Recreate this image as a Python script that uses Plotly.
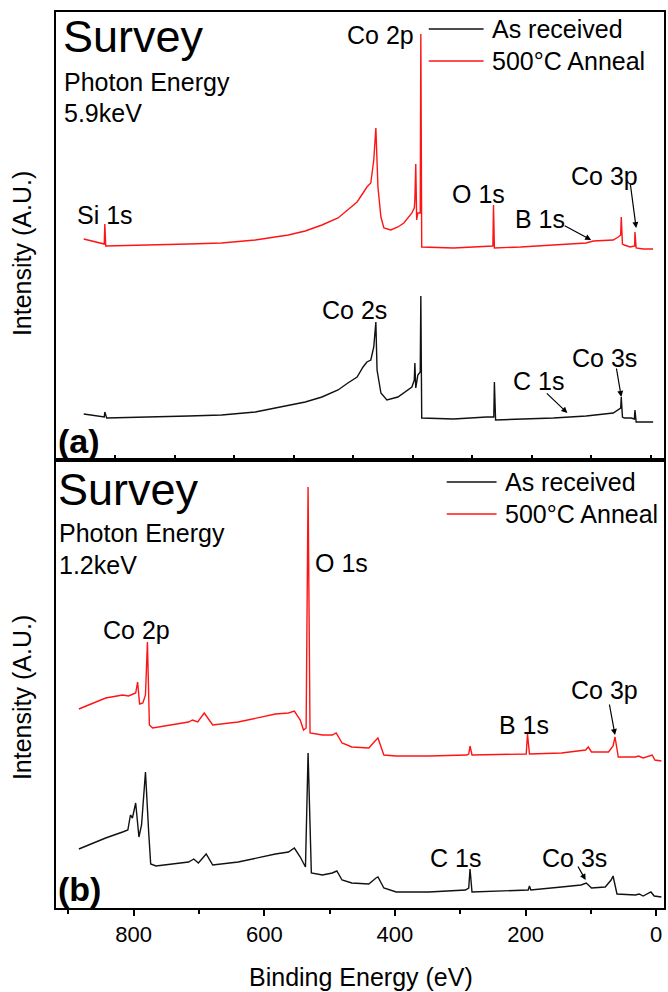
import plotly.graph_objects as go

# ---------------- data (binding energy in eV, intensity in arbitrary units) -------------
# Panel (a): photon energy 5.9 keV
top_as_received_energy = [1905, 1856, 1836, 1834, 1828, 1553, 1442, 1329, 1218, 1161, 1105, 1051,
                          1018, 987, 967, 954, 941, 931, 924, 920, 907, 887, 850, 830, 803, 795,
                          793, 790, 783, 775, 773, 770, 663, 552, 528, 526, 522, 328, 285, 218,
                          127, 110, 102, 100, 96, 90, 67, 56, 54, 50, -7]
top_as_received_intensity = [46, 44, 43, 48, 42, 44, 45, 48, 55, 58, 63, 70,
                             77, 83, 93, 98, 100, 113, 138, 90, 67, 60, 63, 67, 73, 80,
                             97, 72, 85, 88, 164, 42, 41, 43, 43, 78, 40, 42, 43, 44,
                             47, 50, 52, 63, 43, 42, 42, 41, 50, 38, 38]

top_anneal_energy = [1905, 1854, 1836, 1834, 1831, 1553, 1442, 1329, 1218, 1161, 1105, 1051,
                     1018, 987, 967, 954, 941, 931, 924, 917, 907, 897, 874, 850, 830, 803, 795,
                     793, 790, 787, 783, 775, 773, 770, 663, 552, 531, 529, 526, 438, 328, 218,
                     194, 127, 110, 102, 100, 96, 90, 70, 57, 55, 54, 50, 27, -7]
top_anneal_intensity = [221, 217, 216, 236, 214, 216, 217, 220, 225, 229, 235, 242,
                        250, 258, 267, 273, 277, 300, 332, 273, 243, 232, 230, 233, 237, 247, 252,
                        260, 296, 240, 247, 247, 426, 213, 212, 214, 214, 255, 212, 213, 215, 217,
                        219, 220, 223, 225, 243, 216, 215, 213, 214, 214, 228, 212, 211, 211]

# Panel (b): photon energy 1.2 keV
bottom_as_received_energy = [884, 843, 817, 809, 805, 802, 797, 794, 792, 788, 786, 782, 777, 774,
                             766, 716, 708, 701, 689, 679, 640, 583, 563, 554, 545, 537, 533, 528,
                             511, 496, 489, 481, 466, 440, 429, 426, 417, 398, 348, 292, 287, 285,
                             282, 246, 196, 194, 192, 145, 115, 107, 99, 78, 69, 66, 60, 32, 26, 20,
                             8, 3, -8]
bottom_as_received_intensity = [59, 70, 76, 78, 93, 90, 105, 85, 71, 83, 100, 136, 75, 44,
                                42, 46, 49, 45, 54, 43, 46, 54, 56, 60, 51, 41, 155, 35,
                                33, 35, 37, 28, 25, 24, 30, 31, 20, 16, 16, 18, 20, 39,
                                16, 17, 18, 22, 18, 21, 23, 25, 20, 21, 28, 32, 14, 13, 14, 12,
                                16, 12, 11]

bottom_anneal_energy = [884, 843, 817, 808, 797, 794, 791, 786, 782, 779, 776, 771, 716, 710, 702,
                        692, 679, 640, 583, 563, 554, 545, 540, 536, 533, 530, 511, 496, 490, 481,
                        466, 440, 429, 426, 417, 398, 348, 290, 287, 285, 282, 221, 199, 197, 194,
                        145, 108, 104, 99, 73, 66, 63, 58, 32, 27, 20, 6, 2, -8]
bottom_anneal_intensity = [199, 210, 213, 212, 215, 226, 204, 205, 213, 266, 183, 180, 186, 188, 186,
                           195, 183, 186, 194, 195, 197, 188, 178, 180, 421, 175, 173, 173, 175, 165,
                           161, 160, 168, 170, 153, 152, 152, 153, 154, 162, 153, 154, 154, 174, 154,
                           155, 158, 161, 156, 156, 162, 171, 151, 151, 152, 150, 153, 148, 147]

series_names = ["As received", "500°C Anneal"]
bottom_tick_values = [0, 200, 400, 600, 800]
bottom_tick_labels = ["0", "200", "400", "600", "800"]
top_tick_values = [0, 200, 400, 600, 800, 1000, 1200, 1400, 1600, 1800]

# ---------------- styles -------------
FONT = "Liberation Sans, Arial, Helvetica, sans-serif"
BLACK = "#111111"
RED = "#ff1414"
W, H = 668, 992
ML, MR, MT, MB = 56, 2, 12, 84
PW, PH = W - ML - MR, H - MT - MB


def px(x):
    return (x - ML) / PW


def py(y):
    return (H - MB - y) / PH


fig = go.Figure()
fig.add_trace(go.Scatter(x=top_as_received_energy, y=top_as_received_intensity, mode="lines",
                         line=dict(color=BLACK, width=1.4), xaxis="x2", yaxis="y2",
                         name=series_names[0], showlegend=False))
fig.add_trace(go.Scatter(x=top_anneal_energy, y=top_anneal_intensity, mode="lines",
                         line=dict(color=RED, width=1.4), xaxis="x2", yaxis="y2",
                         name=series_names[1], showlegend=False))
fig.add_trace(go.Scatter(x=bottom_as_received_energy, y=bottom_as_received_intensity, mode="lines",
                         line=dict(color=BLACK, width=1.4), xaxis="x", yaxis="y",
                         name=series_names[0], showlegend=False))
fig.add_trace(go.Scatter(x=bottom_anneal_energy, y=bottom_anneal_intensity, mode="lines",
                         line=dict(color=RED, width=1.4), xaxis="x", yaxis="y",
                         name=series_names[1], showlegend=False))

ann = []


def text(x, y, t, size, anchor="left", bold=False, angle=0):
    ann.append(dict(x=x, y=y, xref="paper", yref="paper", text=("<b>%s</b>" % t) if bold else t,
                    showarrow=False, xanchor=anchor, yanchor="middle", textangle=angle,
                    font=dict(family=FONT, size=size, color="black")))


def label(x, y, t, axis, size=25):
    ann.append(dict(x=x, y=y, xref="x" + axis, yref="y" + axis, text=t, showarrow=False,
                    xanchor="center", yanchor="middle", font=dict(family=FONT, size=size, color="black")))


def arrow(x0, y0, x1, y1, axis):
    ann.append(dict(x=x1, y=y1, ax=x0, ay=y0, xref="x" + axis, yref="y" + axis,
                    axref="x" + axis, ayref="y" + axis, text="", showarrow=True,
                    arrowhead=2, arrowsize=1, arrowwidth=1.2, arrowcolor="black", standoff=0))


# panel texts
text(px(61), py(37), "Survey", 45)
text(px(62), py(82), "Photon Energy", 25)
text(px(62), py(113), "5.9keV", 25)
text(px(56), py(441), "(a)", 34, bold=True)
text(px(56), py(489), "Survey", 45)
text(px(57), py(533), "Photon Energy", 25)
text(px(57), py(565), "1.2keV", 25)
text(px(56), py(889), "(b)", 34, bold=True)

# axis titles
text(px(22), py(254), "Intensity (A.U.)", 25, anchor="center", angle=-90)
text(px(22), py(698), "Intensity (A.U.)", 25, anchor="center", angle=-90)
text(px(362), py(977), "Binding Energy (eV)", 25, anchor="center")

# peak labels panel (a)
label(1834, 245, "Si 1s", "2")
label(910, 425, "Co 2p", "2")
label(579, 266, "O 1s", "2")
label(372, 241, "B 1s", "2")
label(157, 284, "Co 3p", "2")
label(997, 150, "Co 2s", "2")
label(378, 79, "C 1s", "2")
label(157, 102, "Co 3s", "2")
arrow(295, 235, 201, 220, "2")
arrow(70, 277, 50, 232, "2")
arrow(355, 68, 281, 47, "2")
arrow(117, 93, 100, 63, "2")

# peak labels panel (b)
label(795, 278, "Co 2p", "")
label(482, 345, "O 1s", "")
label(203, 183, "B 1s", "")
label(79, 218, "Co 3p", "")
label(307, 50, "C 1s", "")
label(125, 50, "Co 3s", "")
arrow(72, 205, 63, 173, "")
arrow(121, 43, 108, 28, "")

# manual legends
shapes = []
for (x0, x1, tx, ys) in [(430, 485, 491, (29, 61)), (448, 498, 504, (482, 514))]:
    for name, col, yy in zip(series_names, [BLACK, RED], ys):
        shapes.append(dict(type="line", xref="paper", yref="paper", x0=px(x0), x1=px(x1),
                           y0=py(yy), y1=py(yy), line=dict(color=col, width=1.4)))
        text(px(tx), py(yy), name, 25)

axis_common = dict(showgrid=False, zeroline=False, showline=True, linecolor="black",
                   linewidth=2, mirror=True)

fig.update_layout(
    width=W, height=H, margin=dict(l=ML, r=MR, t=MT, b=MB),
    plot_bgcolor="white", paper_bgcolor="white", showlegend=False,
    font=dict(family=FONT, size=21, color="black"),
    xaxis=dict(domain=[0, 1], anchor="y", range=[919, -12], tickvals=bottom_tick_values,
               ticktext=bottom_tick_labels, ticks="outside", ticklen=6, tickwidth=1.5,
               tickcolor="black", tickfont=dict(family=FONT, size=22, color="black"),
               minor=dict(dtick=100, tick0=0, ticks="outside", ticklen=4, tickwidth=1.5,
                          tickcolor="black"),
               **axis_common),
    yaxis=dict(domain=[0, 0.5], anchor="x", range=[0, 448], showticklabels=False, ticks="",
               **axis_common),
    xaxis2=dict(domain=[0, 1], anchor="y2", range=[1998, -43.5], tickvals=top_tick_values,
                ticks="inside", ticklen=5, tickwidth=1.5, tickcolor="black",
                showticklabels=False, **axis_common),
    yaxis2=dict(domain=[0.5, 1], anchor="x2", range=[0, 448], showticklabels=False, ticks="",
                **axis_common),
    annotations=ann, shapes=shapes,
)

fig.write_html("out.html")
